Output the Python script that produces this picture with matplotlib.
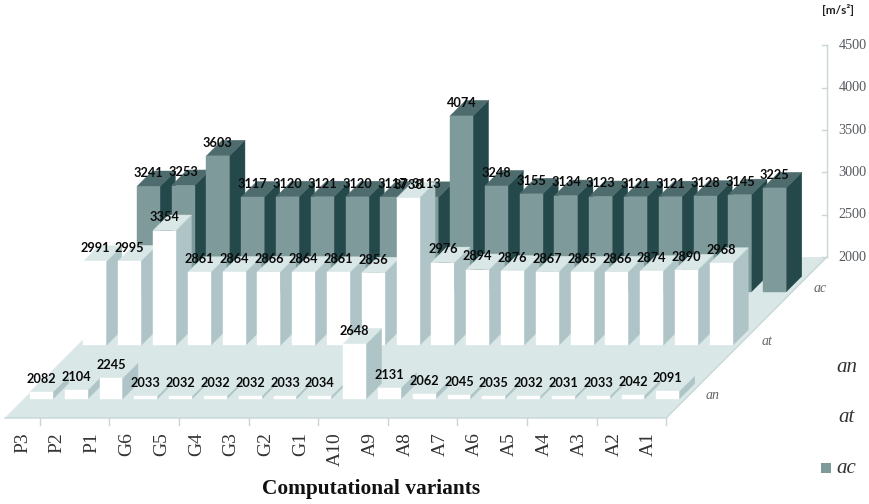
import matplotlib.pyplot as plt
from matplotlib.patches import Polygon

categories = ['P3', 'P2', 'P1', 'G6', 'G5', 'G4', 'G3', 'G2', 'G1', 'A10',
              'A9', 'A8', 'A7', 'A6', 'A5', 'A4', 'A3', 'A2', 'A1']
an = [2082, 2104, 2245, 2033, 2032, 2032, 2032, 2033, 2034, 2648,
      2131, 2062, 2045, 2035, 2032, 2031, 2033, 2042, 2091]
at = [2991, 2995, 3354, 2861, 2864, 2866, 2864, 2861, 2856, 3738,
      2976, 2894, 2876, 2867, 2865, 2866, 2874, 2890, 2968]
ac = [3241, 3253, 3603, 3117, 3120, 3121, 3120, 3117, 3113, 4074,
      3248, 3155, 3134, 3123, 3121, 3121, 3128, 3145, 3225]
value_ticks = [2000, 2500, 3000, 3500, 4000, 4500]
series_names = ['an', 'at', 'ac']

# oblique projection: one row of depth moves right and up
DEPTH_X = 1.537
DEPTH_Y = 632
BAR_W = 0.66
BAR_D = 0.29
BASE = 2000

WHITE_BAR = ('#ffffff', '#aec4c6', '#d9e7e7')
DARK_BAR = ('#7f9a9b', '#25494b', '#4e6b6d')
FLOOR = '#d9e7e7'
EDGE = '#c8d6d7'


def proj(x, d, v):
    return x + d * DEPTH_X, v + d * DEPTH_Y


def poly(ax, pts, color, z):
    ax.add_patch(Polygon(pts, closed=True, facecolor=color, edgecolor=color,
                         linewidth=0.3, zorder=z))


def draw_bar(ax, i, row, value, colors, z):
    x0 = i + (1 - BAR_W) / 2
    x1 = x0 + BAR_W
    d0 = row + (1 - BAR_D) / 2
    d1 = d0 + BAR_D
    front, side, top = colors
    poly(ax, [proj(x1, d0, BASE), proj(x1, d1, BASE),
              proj(x1, d1, value), proj(x1, d0, value)], side, z)
    poly(ax, [proj(x0, d0, value), proj(x1, d0, value),
              proj(x1, d1, value), proj(x0, d1, value)], top, z)
    poly(ax, [proj(x0, d0, BASE), proj(x1, d0, BASE),
              proj(x1, d0, value), proj(x0, d0, value)], front, z)


fig = plt.figure(figsize=(8.7, 5.04), dpi=100)
ax = fig.add_axes([0, 0, 1, 1])
ax.set_xlim(-0.1437, 24.856)
ax.set_ylim(985.8, 6929.2)
ax.axis('off')

n = len(categories)

# floor
poly(ax, [proj(0, 0, BASE), proj(n, 0, BASE), proj(n, 3, BASE), proj(0, 3, BASE)], FLOOR, 1)
ax.plot(*zip(proj(0, 0, BASE), proj(n, 0, BASE), proj(n, 3, BASE)), color=EDGE, lw=1, zorder=1.5)

# value axis on the back right corner
ax.plot(*zip(proj(n, 3, value_ticks[0]), proj(n, 3, value_ticks[-1])), color=EDGE, lw=1, zorder=1)
for v in value_ticks:
    x, y = proj(n, 3, v)
    ax.plot([x - 0.12, x], [y, y], color=EDGE, lw=1, zorder=1)
    ax.text(x + 0.75, y, str(v), family='Liberation Serif', fontsize=10.2,
            color='#555a60', ha='center', va='center')

# category ticks and labels along the front edge
for t in range(1, n + 1, 2):
    ax.plot([t, t], [BASE, BASE - 85], color=EDGE, lw=1, zorder=1)
for i, name in enumerate(categories):
    ax.text(i + 0.5, BASE - 165, name, family='Liberation Serif', fontsize=14,
            color='#333333', rotation=90, ha='center', va='top')

# bars, back row first and left to right so nearer bars cover the side faces
rows = [(2, ac, DARK_BAR), (1, at, WHITE_BAR), (0, an, WHITE_BAR)]
z = 2
for row, values, colors in rows:
    for i, v in enumerate(values):
        draw_bar(ax, i, row, v, colors, z)
        z += 1

# value labels
d_front = (1 - BAR_D) / 2
for row, values, colors in rows:
    for i, v in enumerate(values):
        x, y = proj(i + 0.5, row + d_front, v + 155)
        ax.text(x, y, str(v), family='Lato', fontweight='bold', fontsize=9.2,
                color='#0a0a0a', ha='center', va='center', zorder=200)

# row names next to the floor
for row, name in enumerate(series_names):
    x, y = proj(n + 0.7, row + 0.42, BASE)
    ax.text(x, y, name, family='Liberation Serif', style='italic', fontsize=10,
            color='#666666', ha='center', va='center', zorder=200)

# legend
legend_y = [2590, 2000, 1410]
for name, y in zip(series_names, legend_y):
    ax.text(24.18, y, name, family='Liberation Serif', style='italic', fontsize=15,
            color='#333333', ha='center', va='center')
ax.add_patch(Polygon([(23.45, 1352), (23.74, 1352), (23.74, 1470), (23.45, 1470)],
                     facecolor=DARK_BAR[0], edgecolor='none'))

ax.text(10.52, 1163, 'Computational variants', family='Liberation Serif', fontweight='bold',
        fontsize=15.4, color='#111111', ha='center', va='center')
ax.text(23.95, 6810, '[m/s²]', family='Lato', fontweight='bold', fontsize=8.5,
        color='#222222', ha='center', va='center')

fig.savefig('out.png', dpi=100)
